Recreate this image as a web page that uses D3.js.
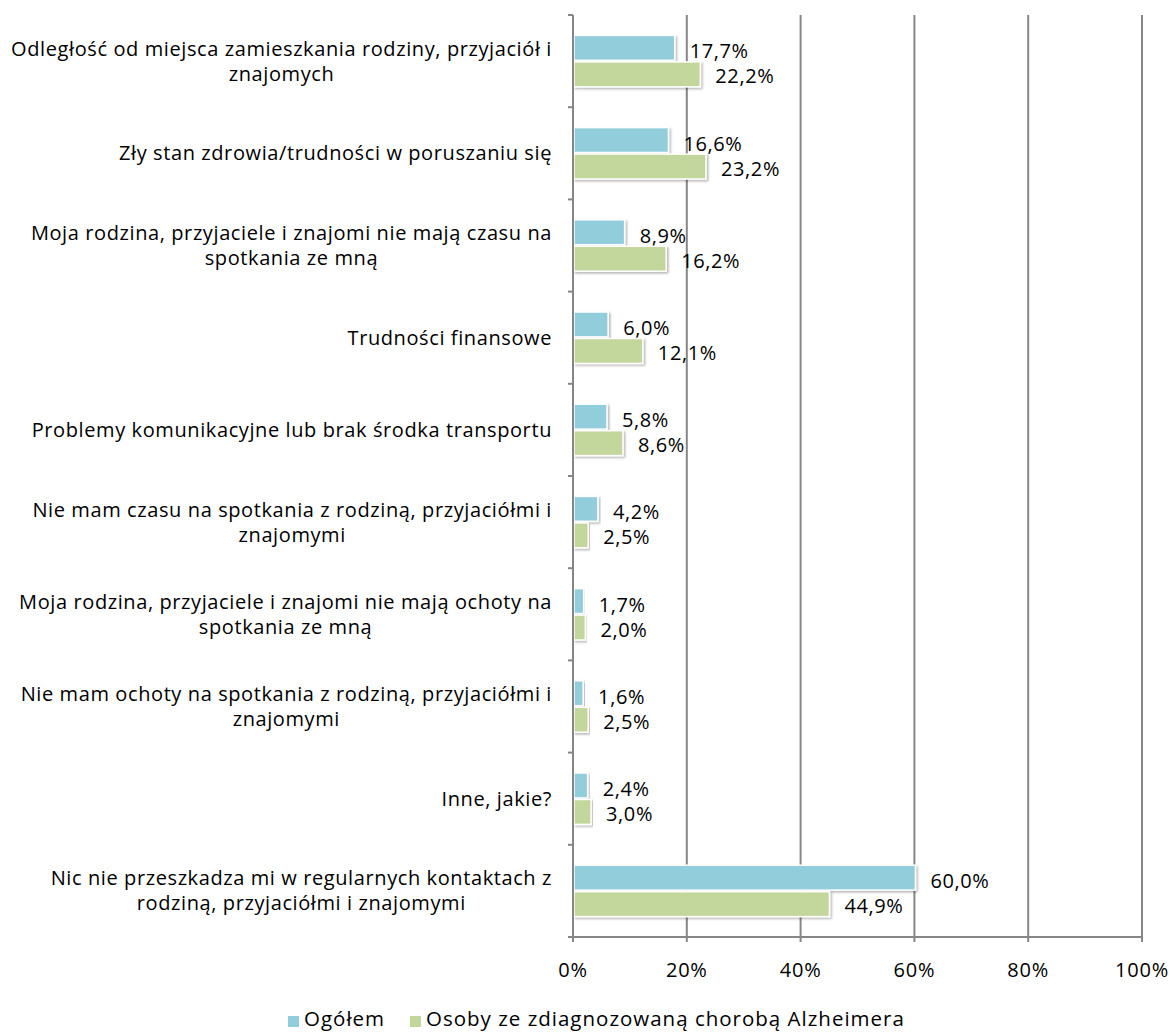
<!DOCTYPE html>
<html>
<head>
<meta charset="utf-8">
<script src="https://cdn.jsdelivr.net/npm/d3@7"></script>
<style>
  html, body { margin: 0; padding: 0; background: #fff; }
  svg { display: block; font-family: "Open Sans", Lato, sans-serif; }
</style>
</head>
<body>
<svg id="chart" width="1173" height="1032"></svg>
<script>
// Reasons that hinder regular contact with family and friends
const categories = [
  "Odległość od miejsca zamieszkania rodziny, przyjaciół i\nznajomych",
  "Zły stan zdrowia/trudności w poruszaniu się",
  "Moja rodzina, przyjaciele i znajomi nie mają czasu na\nspotkania ze mną",
  "Trudności finansowe",
  "Problemy komunikacyjne lub brak środka transportu",
  "Nie mam czasu na spotkania z rodziną, przyjaciółmi i\nznajomymi",
  "Moja rodzina, przyjaciele i znajomi nie mają ochoty na\nspotkania ze mną",
  "Nie mam ochoty na spotkania z rodziną, przyjaciółmi i\nznajomymi",
  "Inne, jakie?",
  "Nic nie przeszkadza mi w regularnych kontaktach z\nrodziną, przyjaciółmi i znajomymi"
];
const ogolem = [17.7, 16.6, 8.9, 6.0, 5.8, 4.2, 1.7, 1.6, 2.4, 60.0];
const alzheimer = [22.2, 23.2, 16.2, 12.1, 8.6, 2.5, 2.0, 2.5, 3.0, 44.9];
const seriesNames = ["Ogółem", "Osoby ze zdiagnozowaną chorobą Alzheimera"];
const seriesColors = ["#92CDDC", "#C3D69B"];
const xTicks = [0, 20, 40, 60, 80, 100];

const svg = d3.select("#chart");
const plotLeft = 573, plotRight = 1142, plotTop = 15, plotBottom = 937;

const x = d3.scaleLinear().domain([0, 100]).range([plotLeft, plotRight]);
const y = d3.scaleBand().domain(d3.range(categories.length)).range([plotTop, plotBottom]);
const inner = d3.scaleBand().domain([0, 1]).range([0, y.bandwidth()]).paddingOuter(0.77).paddingInner(0.06);

const fmt = v => v.toFixed(1).replace(".", ",") + "%";

// soft shadow under bars
const defs = svg.append("defs");
const f = defs.append("filter").attr("id", "shadow").attr("x", "-5%").attr("y", "-20%").attr("width", "115%").attr("height", "160%");
f.append("feDropShadow").attr("dx", 1.5).attr("dy", 1.5).attr("stdDeviation", 1.2).attr("flood-color", "#000").attr("flood-opacity", 0.3);

// vertical gridlines
svg.append("g").selectAll("line").data(xTicks.slice(1)).join("line")
  .attr("x1", d => x(d)).attr("x2", d => x(d))
  .attr("y1", plotTop).attr("y2", plotBottom)
  .attr("stroke", "#868686").attr("stroke-width", 2);

// bars and value labels
const series = [ogolem, alzheimer];
series.forEach((vals, s) => {
  svg.append("g").selectAll("rect").data(vals).join("rect")
    .attr("x", x(0) + 1)
    .attr("y", (d, i) => y(i) + inner(s))
    .attr("width", d => x(d) - x(0))
    .attr("height", inner.bandwidth())
    .attr("fill", seriesColors[s])
    .attr("stroke", "#fff").attr("stroke-width", 1.5)
    .attr("filter", "url(#shadow)");
  svg.append("g").selectAll("text").data(vals).join("text")
    .attr("x", d => x(d) + 16)
    .attr("y", (d, i) => y(i) + inner(s) + inner.bandwidth() / 2 + (s === 0 ? 3.5 : 2))
    .attr("dy", "0.35em")
    .attr("font-size", 20).attr("letter-spacing", 0.6).attr("fill", "#000")
    .text(fmt);
});

// category axis
const yAxis = svg.append("g");
yAxis.append("line").attr("x1", plotLeft).attr("x2", plotLeft).attr("y1", plotTop).attr("y2", plotBottom + 4)
  .attr("stroke", "#868686").attr("stroke-width", 2);
yAxis.selectAll("line.tick").data(d3.range(categories.length + 1)).join("line")
  .attr("class", "tick")
  .attr("x1", plotLeft - 5).attr("x2", plotLeft)
  .attr("y1", i => plotTop + i * y.step()).attr("y2", i => plotTop + i * y.step())
  .attr("stroke", "#868686").attr("stroke-width", 2);

// category labels: block right-aligned to the axis, lines centred within the block
const labelRight = 552, lineHeight = 25;
categories.forEach((c, i) => {
  const lines = c.split("\n");
  const cy = y(i) + y.bandwidth() / 2;
  const t = svg.append("text").attr("text-anchor", "middle")
    .attr("font-size", 20).attr("letter-spacing", 0.6).attr("fill", "#000");
  const spans = lines.map((ln, k) => t.append("tspan")
      .attr("y", cy + (k - (lines.length - 1) / 2) * lineHeight)
      .attr("dy", "0.35em")
      .text(ln));
  const maxW = d3.max(spans, sp => sp.node().getComputedTextLength());
  spans.forEach(sp => sp.attr("x", labelRight - maxW / 2));
});

// value axis
const xAxis = svg.append("g");
xAxis.append("line").attr("x1", plotLeft - 1).attr("x2", plotRight + 1).attr("y1", plotBottom).attr("y2", plotBottom)
  .attr("stroke", "#868686").attr("stroke-width", 2);
xAxis.selectAll("line.tick").data(xTicks).join("line")
  .attr("class", "tick")
  .attr("x1", d => x(d)).attr("x2", d => x(d))
  .attr("y1", plotBottom).attr("y2", plotBottom + 5)
  .attr("stroke", "#868686").attr("stroke-width", 2);
xAxis.selectAll("text").data(xTicks).join("text")
  .attr("x", d => x(d)).attr("y", 970).attr("dy", "0.35em")
  .attr("text-anchor", "middle").attr("font-size", 20).attr("letter-spacing", 0.8)
  .text(d => d + "%");

// legend
const legX = [288, 410];
seriesNames.forEach((n, s) => {
  svg.append("rect").attr("x", legX[s]).attr("y", 1016).attr("width", 11).attr("height", 11).attr("fill", seriesColors[s]);
  svg.append("text").attr("x", legX[s] + 16).attr("y", 1019).attr("dy", "0.35em")
    .attr("font-size", 20.5).attr("letter-spacing", 1).text(n);
});
</script>
</body>
</html>
